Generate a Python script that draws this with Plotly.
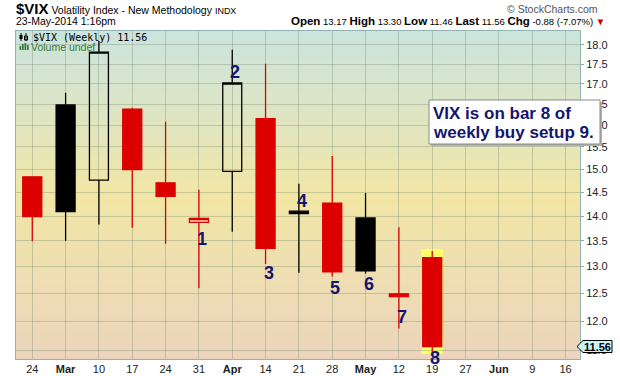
import math
from datetime import datetime, timedelta
import plotly.graph_objects as go

# ---------------- data ----------------
weeks = ["2014-02-24", "2014-03-03", "2014-03-10", "2014-03-17", "2014-03-24",
         "2014-03-31", "2014-04-07", "2014-04-14", "2014-04-21", "2014-04-28",
         "2014-05-05", "2014-05-12", "2014-05-19"]
opens = [14.83, 16.48, 14.76, 16.38, 14.70, 13.87, 14.95, 16.15, 14.10, 14.27, 13.96, 12.49, 13.17]
highs = [14.83, 16.78, 18.10, 16.41, 16.08, 14.55, 17.87, 17.51, 14.68, 15.29, 14.48, 13.77, 13.30]
lows = [13.49, 13.50, 13.83, 13.76, 13.44, 12.59, 13.68, 13.05, 12.88, 12.81, 12.87, 11.87, 11.46]
closes = [13.99, 14.09, 17.81, 14.99, 14.41, 13.95, 17.02, 13.35, 14.05, 12.90, 12.92, 12.44, 11.56]
prior_close = 14.68

setup_counts = ["1", "2", "3", "4", "5", "6", "7", "8"]
setup_weeks = weeks[5:]
setup_label_values = [13.54, 17.30, 12.88, 14.32, 12.59, 12.67, 12.08, 11.37]

tick_dates = ["2014-02-24", "2014-03-03", "2014-03-10", "2014-03-17", "2014-03-24",
              "2014-03-31", "2014-04-07", "2014-04-14", "2014-04-21", "2014-04-28",
              "2014-05-05", "2014-05-12", "2014-05-19", "2014-05-26", "2014-06-02",
              "2014-06-09", "2014-06-16"]
tick_text = ["24", "<b>Mar</b>", "10", "17", "24", "31", "<b>Apr</b>", "14", "21", "28",
             "<b>May</b>", "12", "19", "27", "<b>Jun</b>", "9", "16"]
y_ticks = [11.5, 12.0, 12.5, 13.0, 13.5, 14.0, 14.5, 15.0, 15.5, 16.0, 16.5, 17.0, 17.5, 18.0]
y_tick_text = ["%.1f" % v for v in y_ticks]

last_value = 11.56

# ---------------- geometry helpers ----------------
W, H = 620, 376
ML, MR, MT, MB = 16, 40, 31, 17
PW, PH = W - ML - MR, H - MT - MB
Y_LO, Y_HI = math.log10(11.35), math.log10(18.37)
NAVY = "#15156e"
FONT = "Arial, Liberation Sans, sans-serif"


def px(x):
    return (x - ML) / PW


def py(y):
    return (H - MB - y) / PH


def ydom(v):
    return (math.log10(v) - Y_LO) / (Y_HI - Y_LO)


# ---------------- candles ----------------
prev = [prior_close] + closes[:-1]
is_red = [c < p for c, p in zip(closes, prev)]

fig = go.Figure()
for flag, col in [(False, "#000000"), (True, "#dd0000")]:
    idx = [i for i in range(len(weeks)) if is_red[i] == flag]
    fig.add_trace(go.Candlestick(
        x=[weeks[i] for i in idx],
        open=[opens[i] for i in idx],
        high=[highs[i] for i in idx],
        low=[lows[i] for i in idx],
        close=[closes[i] for i in idx],
        increasing=dict(line=dict(color=col, width=1.3), fillcolor="rgba(0,0,0,0)"),
        decreasing=dict(line=dict(color=col, width=1.3), fillcolor=col),
        whiskerwidth=0, showlegend=False, hoverinfo="skip",
    ))

shapes = []
# gradient background
stops = [(0.0, (236, 212, 188)), (0.25, (238, 222, 178)), (0.5, (241, 230, 165)),
         (0.75, (222, 229, 196)), (1.0, (203, 228, 222))]


def grad(t):
    for (t0, c0), (t1, c1) in zip(stops[:-1], stops[1:]):
        if t0 <= t <= t1:
            f = (t - t0) / (t1 - t0)
            return "rgb(%d,%d,%d)" % tuple(round(a + (b - a) * f) for a, b in zip(c0, c1))
    return "rgb(%d,%d,%d)" % stops[-1][1]


N = 90
for k in range(N):
    shapes.append(dict(type="rect", xref="paper", yref="paper", x0=0, x1=1,
                       y0=k / N, y1=(k + 1) / N + 0.002, layer="below",
                       line=dict(width=0), fillcolor=grad((k + 0.5) / N)))

# highlight of the last bar
d_last = datetime.strptime(weeks[-1], "%Y-%m-%d")
half = timedelta(hours=2.25 * 24)
shapes.append(dict(type="rect", xref="x", yref="paper",
                   x0=(d_last - half).strftime("%Y-%m-%d %H:%M"),
                   x1=(d_last + half).strftime("%Y-%m-%d %H:%M"),
                   y0=ydom(lows[-1]) - 0.004, y1=ydom(highs[-1]) + 0.006,
                   layer="below", line=dict(width=0), fillcolor="#ffff66"))

# text box with shadow
shapes.append(dict(type="rect", xref="paper", yref="paper",
                   x0=px(431), x1=px(602), y0=py(146), y1=py(102),
                   layer="above", line=dict(width=0), fillcolor="#b0b0b0"))
shapes.append(dict(type="rect", xref="paper", yref="paper",
                   x0=px(429), x1=px(600), y0=py(144), y1=py(100),
                   layer="above", line=dict(width=1, color="#8a8a8a"), fillcolor="#ffffff"))

# last price tag on the axis
ty = ydom(last_value)
tag_h = 6 / PH
shapes.append(dict(type="path", xref="paper", yref="paper",
                   path="M %.5f %.5f L %.5f %.5f L %.5f %.5f L %.5f %.5f L %.5f %.5f Z" % (
                       px(577), ty,
                       px(583), ty + tag_h,
                       px(612), ty + tag_h,
                       px(612), ty - tag_h,
                       px(583), ty - tag_h),
                   layer="above", line=dict(width=1, color="#000000"), fillcolor="#c8f2fa"))

# legend icons
shapes += [
    dict(type="line", xref="paper", yref="paper", x0=px(21), x1=px(21), y0=py(41), y1=py(33),
         line=dict(color="#000", width=1), layer="above"),
    dict(type="rect", xref="paper", yref="paper", x0=px(19.5), x1=px(22.5), y0=py(39), y1=py(35),
         line=dict(width=0), fillcolor="#000", layer="above"),
    dict(type="line", xref="paper", yref="paper", x0=px(26), x1=px(26), y0=py(41), y1=py(33),
         line=dict(color="#000", width=1), layer="above"),
    dict(type="rect", xref="paper", yref="paper", x0=px(24.5), x1=px(27.5), y0=py(40), y1=py(36),
         line=dict(color="#000", width=1), fillcolor="rgba(0,0,0,0)", layer="above"),
]
for i, hgt in enumerate([4, 6, 7, 5]):
    shapes.append(dict(type="rect", xref="paper", yref="paper",
                       x0=px(19.5 + i * 2.5), x1=px(21.2 + i * 2.5), y0=py(50), y1=py(50 - hgt),
                       line=dict(width=0), fillcolor="#2e7d32", layer="above"))

annotations = []
# count labels
for lab, wk, v in zip(setup_counts, setup_weeks, setup_label_values):
    annotations.append(dict(x=wk, y=math.log10(v), xref="x", yref="y", text="<b>%s</b>" % lab,
                            showarrow=False, xshift=3, font=dict(family=FONT, size=18, color=NAVY)))

# box text
annotations.append(dict(x=px(431), y=py(113), xref="paper", yref="paper", xanchor="left",
                        yanchor="middle", showarrow=False, text="<b>VIX is on bar 8 of</b>",
                        font=dict(family=FONT, size=17, color=NAVY)))
annotations.append(dict(x=px(431), y=py(132), xref="paper", yref="paper", xanchor="left",
                        yanchor="middle", showarrow=False, text="<b>weekly buy setup 9.</b>",
                        font=dict(family=FONT, size=17, color=NAVY)))

# last price tag text
annotations.append(dict(x=px(597), y=ty, xref="paper", yref="paper",
                        xanchor="center", yanchor="middle", showarrow=False,
                        text="<b>%.2f</b>" % last_value,
                        font=dict(family=FONT, size=11, color="#000")))

# header
annotations.append(dict(x=px(14), y=py(9), xref="paper", yref="paper", xanchor="left",
                        yanchor="middle", showarrow=False,
                        text="<span style='font-size:15px'><b>$VIX</b></span> Volatility Index - New Methodology "
                             "<span style='font-size:9px'>INDX</span>",
                        font=dict(family=FONT, size=10.5, color="#000")))
annotations.append(dict(x=px(600), y=py(9), xref="paper", yref="paper", xanchor="right",
                        yanchor="middle", showarrow=False, text="© StockCharts.com",
                        font=dict(family=FONT, size=10.5, color="#555")))
annotations.append(dict(x=px(14), y=py(21), xref="paper", yref="paper", xanchor="left",
                        yanchor="middle", showarrow=False, text="23-May-2014 1:16pm",
                        font=dict(family=FONT, size=10.5, color="#000")))
annotations.append(dict(x=px(607), y=py(21), xref="paper", yref="paper", xanchor="right",
                        yanchor="middle", showarrow=False,
                        text="<span style='font-size:11.5px'><b>Open</b></span> 13.17 "
                             "<span style='font-size:11.5px'><b>High</b></span> 13.30 "
                             "<span style='font-size:11.5px'><b>Low</b></span> 11.46 "
                             "<span style='font-size:11.5px'><b>Last</b></span> 11.56 "
                             "<span style='font-size:11.5px'><b>Chg</b></span> -0.88 (-7.07%) "
                             "<span style='color:#cc0000'>▼</span>",
                        font=dict(family=FONT, size=9.5, color="#000")))
# in-chart legend
annotations.append(dict(x=px(31), y=py(37), xref="paper", yref="paper", xanchor="left",
                        yanchor="middle", showarrow=False, text="$VIX (Weekly) 11.56",
                        font=dict(family="DejaVu Sans Mono", size=10, color="#000")))
annotations.append(dict(x=px(29), y=py(46.5), xref="paper", yref="paper", xanchor="left",
                        yanchor="middle", showarrow=False, text="Volume undef",
                        font=dict(family=FONT, size=10.5, color="#2e7d32")))

GRID = "rgba(110,130,105,0.32)"
AXLINE = "#93b3b3"
fig.update_layout(
    width=W, height=H, margin=dict(l=ML, r=MR, t=MT, b=MB, autoexpand=False),
    paper_bgcolor="#ffffff", plot_bgcolor="#f0e6b0",
    font=dict(family=FONT, size=11, color="#222"),
    boxgap=0.43, boxgroupgap=0, showlegend=False,
    shapes=shapes, annotations=annotations,
    xaxis=dict(type="date", range=["2014-02-20 14:00", "2014-06-19 01:00"],
               tickvals=tick_dates, ticktext=tick_text, tickangle=0,
               showgrid=True, gridcolor=GRID, gridwidth=1, automargin=False,
               showline=True, linecolor=AXLINE, linewidth=1, mirror=True,
               ticks="", tickfont=dict(size=11, color="#222"),
               rangeslider=dict(visible=False), zeroline=False),
    yaxis=dict(type="log", range=[Y_LO, Y_HI], side="right", automargin=False,
               tickvals=y_ticks, ticktext=y_tick_text,
               showgrid=True, gridcolor=GRID, gridwidth=1,
               showline=True, linecolor=AXLINE, linewidth=1, mirror=True,
               ticks="outside", ticklen=3, tickcolor="#8aa",
               tickfont=dict(size=11, color="#222"), zeroline=False),
)

fig.write_html("out.html", config={"displayModeBar": False},
               post_script="document.body.style.margin='0';document.body.style.padding='0';")
